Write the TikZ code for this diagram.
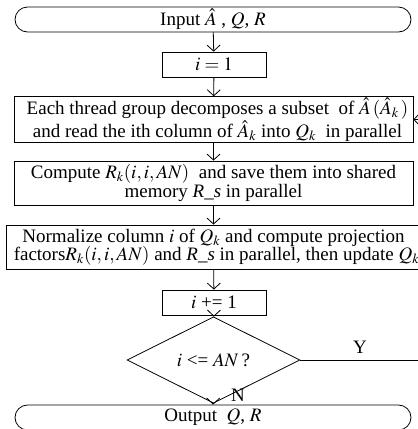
\documentclass[tikz,border=0pt]{standalone}
\usepackage{mathptmx}
\usepackage[no-math]{fontspec}
\setmainfont{Liberation Serif}
\usetikzlibrary{shapes.misc,shapes.geometric,arrows.meta}

\tikzset{
  flow/.style={draw=black, line width=0.8pt},
  proc/.style={flow, rectangle, inner sep=1pt, align=center,
    font=\fontsize{19}{18.5}\selectfont},
  term/.style={proc, rounded rectangle, minimum width=398pt, minimum height=25pt},
  smallbox/.style={proc, minimum width=104pt, minimum height=25pt},
  widebox/.style={proc, minimum width=399pt, minimum height=44pt},
  decision/.style={proc, diamond, minimum width=173pt, minimum height=51pt, inner sep=0pt},
  link/.style={flow, -{Straight Barb[length=6pt,width=13pt]}},
  lbl/.style={font=\fontsize{19}{19}\selectfont, inner sep=0pt}
}

\begin{document}
\begin{tikzpicture}[x=1pt,y=-1pt]
\useasboundingbox (0,0) rectangle (418,429);
\clip (0,0) rectangle (418,429);

% flow steps, top to bottom
\node[term] (input) at (213,19.5) {Input $\hat{A}$ , $Q$, $R$};
\node[smallbox] (init) at (214,64.5) {$i=1$};
\node[widebox, minimum height=45pt] (decomp) at (213.5,119.5)
  {\hspace*{8pt}Each thread group decomposes a subset\ \ of $\hat{A}\,(\hat{A}_k\,)$\\
   \hspace*{8pt}and read the ith column of $\hat{A}_k$ into $Q_k$\ \ in parallel};
\node[widebox] (compute) at (213.5,183)
  {Compute $R_k(i,i,AN)$\ \ and save them into shared\\
   memory \textit{R\_s} in parallel};
\node[widebox] (norm) at (213.5,247)
  {Normalize column $i$ of $Q_k$ and compute projection\\
   \hspace*{6pt}factors$R_k(i,i,AN)$ and \textit{R\_s} in parallel, then update $Q_k$};
\node[smallbox] (incr) at (214,302.5) {$i$ += 1};
\node[decision] (cond) at (213.5,360) {$i$ <= $AN$\,?};
\node[term] (output) at (213,417.5) {Output\ \ $Q$, $R$};

% connectors
\draw[link] (input) -- (init);
\draw[link] (init) -- (decomp);
\draw[link] (decomp) -- (compute);
\draw[link] (compute) -- (norm);
\draw[link] (norm) -- (incr);
\draw[link] (incr) -- (cond);
\draw[link] (cond) -- (output);
\node[lbl] (nlabel) at (238,395) {N};

% loop back while the condition holds
\coordinate (loopR) at (426,360);
\draw[link] (cond.east) -- (loopR) |- (decomp.east);
\node[lbl] (ylabel) at (360,347) {Y};
\end{tikzpicture}
\end{document}
